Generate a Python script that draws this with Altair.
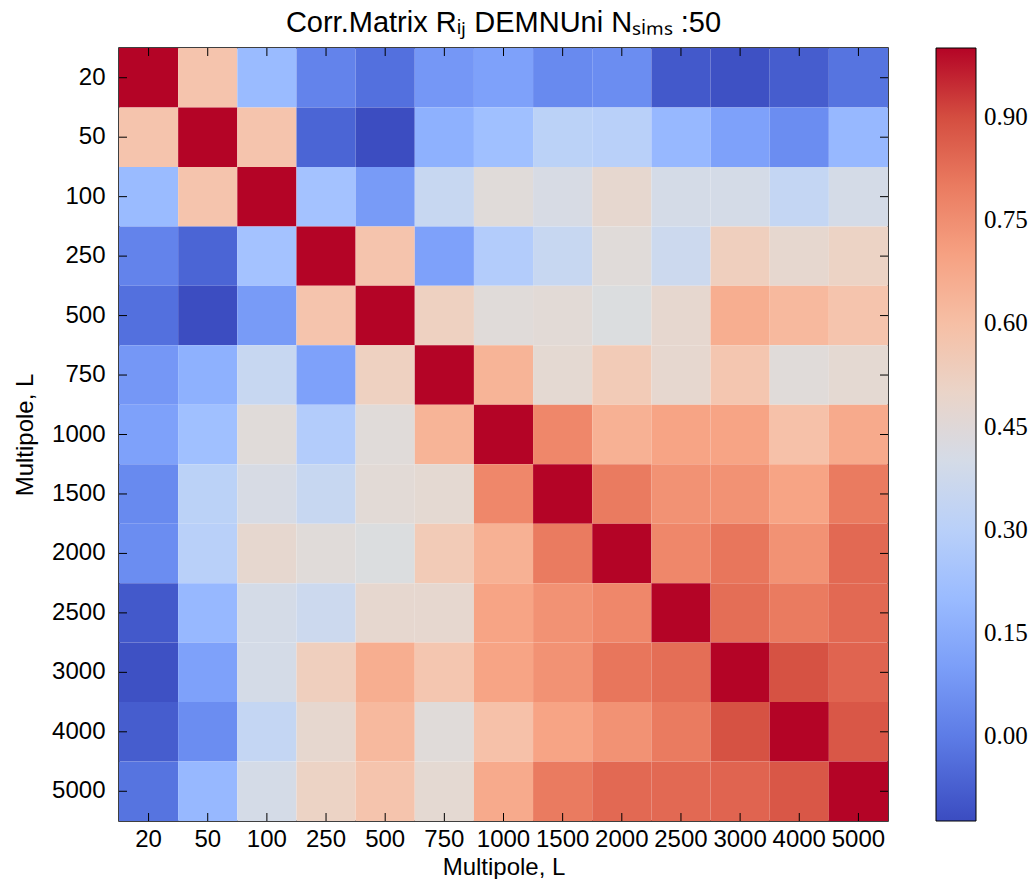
import altair as alt
import pandas as pd
import numpy as np

multipoles = ["20", "50", "100", "250", "500", "750", "1000", "1500", "2000", "2500", "3000", "4000", "5000"]

# upper triangle rows (row i, columns i..12); matrix is symmetric
row_20 = [1.00, 0.58, 0.20, 0.02, -0.03, 0.08, 0.11, 0.04, 0.05, -0.09, -0.11, -0.08, -0.02]
row_50 = [1.00, 0.58, -0.06, -0.12, 0.16, 0.22, 0.31, 0.30, 0.19, 0.11, 0.05, 0.19]
row_100 = [1.00, 0.23, 0.09, 0.35, 0.45, 0.41, 0.48, 0.40, 0.40, 0.34, 0.40]
row_250 = [1.00, 0.58, 0.11, 0.28, 0.35, 0.45, 0.37, 0.53, 0.48, 0.51]
row_500 = [1.00, 0.52, 0.45, 0.46, 0.43, 0.48, 0.66, 0.62, 0.58]
row_750 = [1.00, 0.64, 0.47, 0.55, 0.48, 0.57, 0.45, 0.47]
row_1000 = [1.00, 0.77, 0.65, 0.69, 0.69, 0.59, 0.67]
row_1500 = [1.00, 0.80, 0.74, 0.74, 0.69, 0.80]
row_2000 = [1.00, 0.77, 0.81, 0.74, 0.84]
row_2500 = [1.00, 0.83, 0.80, 0.84]
row_3000 = [1.00, 0.89, 0.85]
row_4000 = [1.00, 0.88]
row_5000 = [1.00]

upper = [row_20, row_50, row_100, row_250, row_500, row_750, row_1000,
         row_1500, row_2000, row_2500, row_3000, row_4000, row_5000]

n = len(multipoles)
M = np.zeros((n, n))
for i, r in enumerate(upper):
    for k, v in enumerate(r):
        j = i + k
        M[i, j] = v
        M[j, i] = v

records = []
for i in range(n):
    for j in range(n):
        records.append({"row": multipoles[i], "col": multipoles[j], "R": M[i, j]})
df = pd.DataFrame(records)
ticks_df = pd.DataFrame({"L": multipoles})

# matplotlib coolwarm (Moreland) control points
coolwarm = ["#3b4cc0", "#445acc", "#4d68d7", "#5775e1", "#6282ea", "#6c8ef1", "#779af7", "#82a5fb",
            "#8db0fe", "#98b9ff", "#a3c2ff", "#aec9fd", "#b8d0f9", "#c2d5f4", "#ccd9ee", "#d5dbe6",
            "#dddddd", "#e5d8d1", "#ecd3c5", "#f1ccb9", "#f5c4ad", "#f7bba0", "#f7b194", "#f7a687",
            "#f49a7b", "#f18d6f", "#ec7f63", "#e57058", "#de604d", "#d55042", "#cb3e38", "#c0282f",
            "#b40426"]
vmin, vmax = -0.123, 1.0
stops = list(np.linspace(vmin, vmax, len(coolwarm)))

W, H = 769, 773
TL = 8

xs = alt.Scale(domain=multipoles, paddingInner=0, paddingOuter=0)
ys = alt.Scale(domain=multipoles, paddingInner=0, paddingOuter=0)

heat = alt.Chart(df).mark_rect(strokeWidth=0).encode(
    x=alt.X("col:O", scale=xs,
            axis=alt.Axis(title="Multipole, L", labelAngle=0, ticks=False, domain=False,
                          labelPadding=6, titlePadding=4)),
    y=alt.Y("row:O", scale=ys,
            axis=alt.Axis(title="Multipole, L", ticks=False, domain=False,
                          labelPadding=14, titlePadding=14)),
    color=alt.Color("R:Q", scale=alt.Scale(domain=stops, range=coolwarm, clamp=True),
                    legend=alt.Legend(title=None, values=[0.0, 0.15, 0.30, 0.45, 0.60, 0.75, 0.90],
                                      format=".2f", gradientLength=H, gradientThickness=40,
                                      gradientStrokeColor="black", gradientStrokeWidth=1,
                                      labelFont="Liberation Serif", labelFontSize=25, labelColor="black",
                                      labelOffset=8, offset=48, direction="vertical")),
)

top_t = alt.Chart(ticks_df).mark_rule(color="black", strokeWidth=1).encode(
    x=alt.X("L:O", scale=xs), y=alt.value(0), y2=alt.value(TL))
bot_t = alt.Chart(ticks_df).mark_rule(color="black", strokeWidth=1).encode(
    x=alt.X("L:O", scale=xs), y=alt.value(H - TL), y2=alt.value(H))
left_t = alt.Chart(ticks_df).mark_rule(color="black", strokeWidth=1).encode(
    y=alt.Y("L:O", scale=ys), x=alt.value(0), x2=alt.value(TL))
right_t = alt.Chart(ticks_df).mark_rule(color="black", strokeWidth=1).encode(
    y=alt.Y("L:O", scale=ys), x=alt.value(W - TL), x2=alt.value(W))

chart = alt.layer(heat, top_t, bot_t, left_t, right_t).properties(
    width=W, height=H,
    padding={"left": 13, "top": 8, "right": 0, "bottom": 0},
    title=alt.Title("Corr.Matrix Rᵢⱼ DEMNUni Nₛᵢₘₛ :50", font="Liberation Sans",
                    fontSize=29, fontWeight="normal", color="black", offset=10),
).configure_axis(
    labelFont="Liberation Sans", labelFontSize=24, labelColor="black",
    titleFont="Liberation Sans", titleFontSize=24, titleFontWeight="normal", titleColor="black",
    grid=False,
).configure_view(stroke="black", strokeWidth=1.5)

chart.save("out.html", embed_options={"renderer": "svg", "actions": False})
